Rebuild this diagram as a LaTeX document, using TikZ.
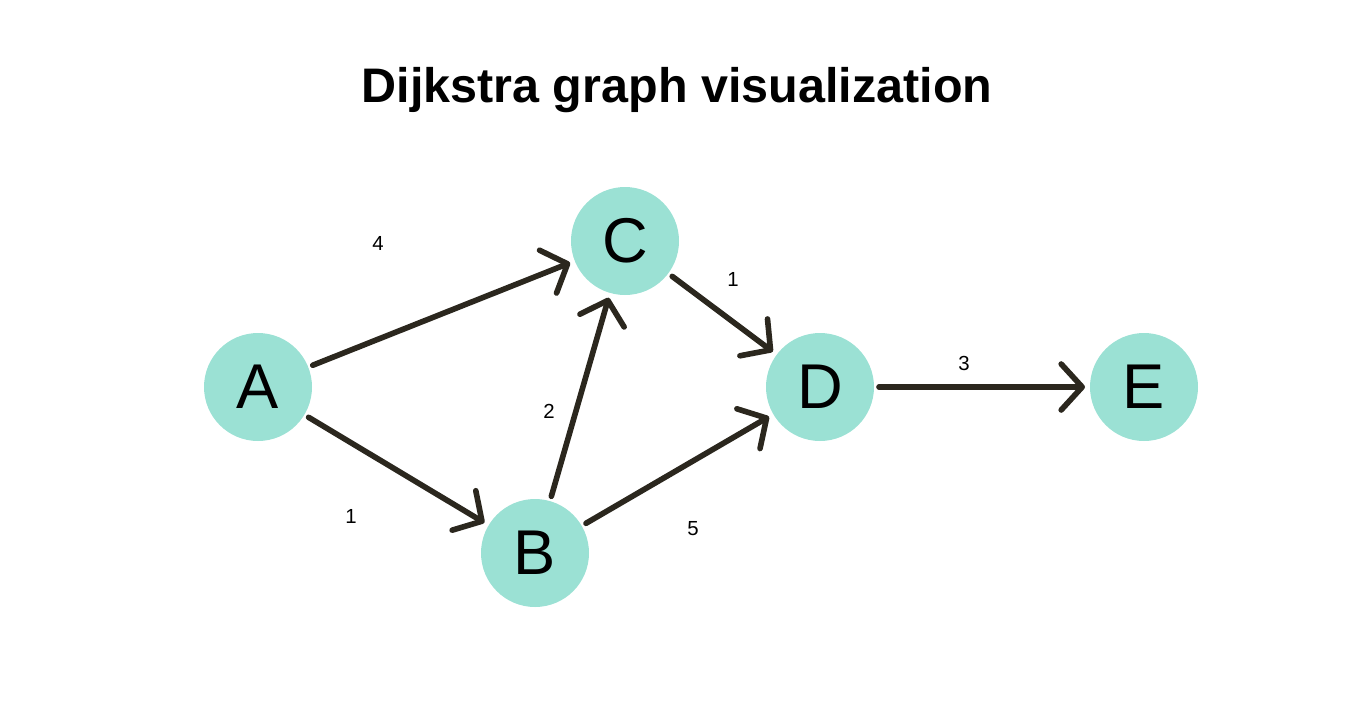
\documentclass[tikz,border=0pt]{standalone}
\usepackage{fontspec}
\setmainfont{Liberation Sans}
\usepackage{tikz}
\usetikzlibrary{arrows.meta, positioning}
\usepackage{xcolor}
\definecolor{nodeteal}{RGB}{155,225,212}
\definecolor{edgedark}{RGB}{43,39,30}

\begin{document}
\begin{tikzpicture}[
    vertex/.style={circle, fill=nodeteal, minimum size=1.08cm, inner sep=0pt, outer sep=0.05cm, font=\fontsize{18}{18}\selectfont},
    edge/.style={-{Straight Barb[length=2.1mm, width=4.6mm, line cap=round, line join=round]}, line width=1.6pt, line cap=round, draw=edgedark},
    weight/.style={font=\fontsize{5.8}{5.8}\selectfont, inner sep=1pt},
]
    \useasboundingbox (0,0) rectangle (13.62,7.03);

    % Title
    \node[font=\fontsize{13.8}{13.8}\selectfont\bfseries] (title) at (6.77,6.13) {Dijkstra graph visualization};

    % Vertices
    \node[vertex] (A) at (2.58,3.16) {A};
    \node[vertex] (C) at (6.25,4.62) {C};
    \node[vertex] (B) at (5.35,1.50) {B};
    \node[vertex] (D) at (8.20,3.16) {D};
    \node[vertex] (E) at (11.44,3.16) {E};

    % Edges
    \draw[edge] (A) -- (C);
    \draw[edge] (A) -- (B);
    \draw[edge] (B) -- (C);
    \draw[edge] (C) -- (D);
    \draw[edge] (B) -- (D);
    \draw[edge] (D) -- (E);

    % Weights
    \node[weight] (wAC) at (3.78,4.60) {4};
    \node[weight] (wAB) at (3.51,1.87) {1};
    \node[weight] (wBC) at (5.49,2.92) {2};
    \node[weight] (wCD) at (7.33,4.24) {1};
    \node[weight] (wBD) at (6.93,1.74) {5};
    \node[weight] (wDE) at (9.64,3.40) {3};

\end{tikzpicture}
\end{document}
